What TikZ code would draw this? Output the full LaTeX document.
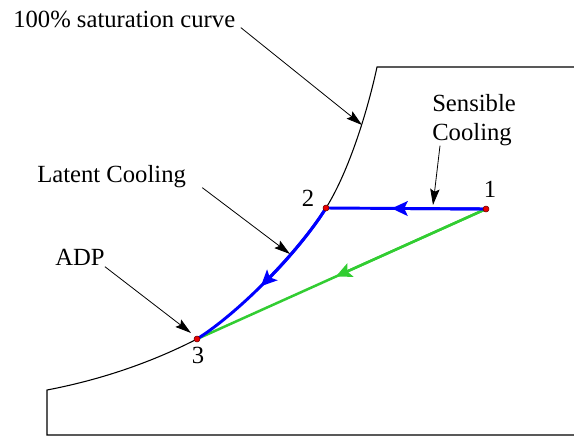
\documentclass[tikz,border=0pt]{standalone}
\usepackage{fontspec}
\setmainfont{Liberation Serif}
\usetikzlibrary{arrows.meta,calc,positioning}
\definecolor{sensline}{RGB}{0,0,255}
\definecolor{coilline}{RGB}{50,205,50}
\definecolor{ptfill}{RGB}{235,0,0}
\tikzset{
  chartline/.style={black,line width=0.8pt},
  leader/.style={black,line width=0.6pt,-{Stealth[length=12pt,width=7pt,inset=2pt]}},
  lbl/.style={font=\fontsize{18.5}{21.5}\selectfont,inner sep=0pt},
  flowtip/.style={-{Stealth[length=12pt,width=11pt,inset=2.5pt]}},
  statept/.style={circle,draw=black!60!red,fill=ptfill,line width=0.4pt,inner sep=0pt,minimum size=4.5pt},
}

\begin{document}
\begin{tikzpicture}[x=0.75pt,y=-0.75pt]
  \useasboundingbox (0,0) rectangle (574,436);
  \coordinate (p1) at (486,209);
  \coordinate (p2) at (326,208);
  \coordinate (p3) at (197,339);
  \draw[chartline] (574,435) -- (47,435) -- (47,390)
    .. controls (110,378) and (160,358) .. (p3)
    .. controls (240,312) and (300,250) .. (p2)
    .. controls (352,166) and (370,100) .. (377,67) -- (574,67);
  \draw[coilline,line width=1.9pt] (p1) -- (p3);
  \draw[coilline,line width=1.9pt,flowtip] (p1) -- ($(p1)!0.52!(p3)$);
  \draw[sensline,line width=2.2pt] (p1) -- (p2);
  \draw[sensline,line width=2.2pt,flowtip] (p1) -- ($(p1)!0.59!(p2)$);
  \draw[sensline,line width=2.2pt] (p2) .. controls (300,250) and (240,312) .. (p3);
  \draw[sensline,line width=2.2pt,flowtip] (p2) .. controls (311.7,231.1) and (287.1,260.3) .. (260.8,286.3);
  \foreach \p/\n in {p1/1,p2/2,p3/3} \node[statept] (dot\n) at (\p) {};
  \node[lbl,anchor=base] (lbl1) at (490,197) {1};
  \node[lbl,anchor=base] (lbl2) at (308,206) {2};
  \node[lbl,anchor=base] (lbl3) at (198,363) {3};
  \node[lbl,anchor=base west] (satlbl) at (13,27) {100\% saturation curve};
  \node[lbl,anchor=north west,align=left] (senslbl) at (432,94) {Sensible\\Cooling};
  \node[lbl,anchor=base west] (latlbl) at (37,182) {Latent Cooling};
  \node[lbl,anchor=base west] (adplbl) at (55,265) {ADP};
  \coordinate (satpt) at (362,125);
  \coordinate (senspt) at (433,205);
  \coordinate (latpt) at (290,254);
  \coordinate (adppt) at (191,333);
  \draw[leader] ([xshift=4pt]satlbl.south east) -- (satpt);
  \draw[leader] ([xshift=6pt]senslbl.south west) -- (senspt);
  \draw[leader] ([xshift=12pt]latlbl.south east) -- (latpt);
  \draw[leader] ([yshift=-1pt]adplbl.south east) -- (adppt);
\end{tikzpicture}
\end{document}
